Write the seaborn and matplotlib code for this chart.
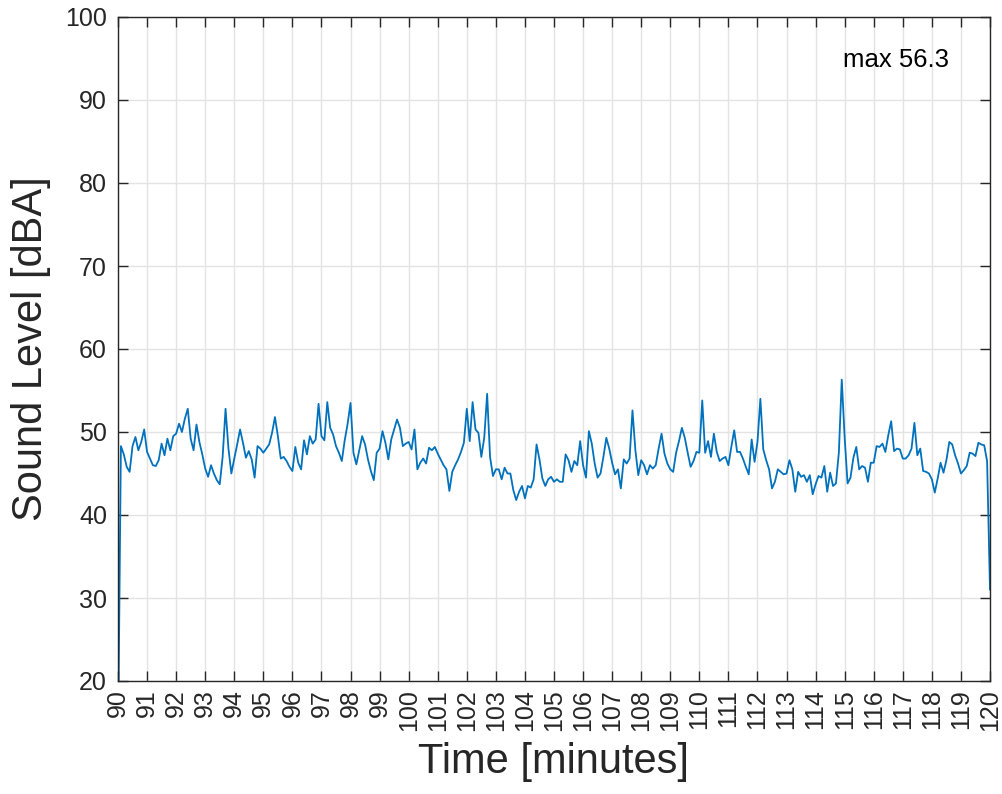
import matplotlib
matplotlib.use("Agg")
import matplotlib.pyplot as plt
import seaborn as sns
import numpy as np
import pandas as pd

# sound level, one value every 0.1 min from 90.0 to 120.0
level_90 = [12.0, 48.3, 47.3, 45.8, 45.2, 48.3, 49.4, 47.8, 48.8, 50.3]
level_91 = [47.6, 46.8, 46.0, 45.9, 46.6, 48.6, 47.2, 49.2, 47.8, 49.5]
level_92 = [49.8, 51.0, 50.0, 51.6, 52.8, 49.2, 47.8, 50.9, 48.8, 47.3]
level_93 = [45.6, 44.6, 46.0, 45.0, 44.2, 43.7, 47.0, 52.8, 48.0, 45.0]
level_94 = [46.8, 48.5, 50.3, 48.7, 46.9, 47.7, 46.7, 44.5, 48.3, 48.0]
level_95 = [47.5, 48.0, 48.5, 49.9, 51.8, 49.5, 46.8, 47.0, 46.5, 45.8]
level_96 = [45.3, 48.2, 46.3, 45.5, 49.0, 47.3, 49.5, 48.6, 49.1, 53.4]
level_97 = [49.5, 49.0, 53.6, 50.5, 49.7, 48.3, 47.5, 46.5, 49.0, 51.0]
level_98 = [53.5, 47.5, 46.1, 47.8, 49.5, 48.5, 46.7, 45.3, 44.2, 47.5]
level_99 = [48.0, 50.1, 48.7, 46.7, 49.1, 50.3, 51.5, 50.5, 48.3, 48.6]
level_100 = [48.8, 47.9, 50.3, 45.5, 46.3, 46.8, 46.2, 48.1, 47.8, 48.2]
level_101 = [47.4, 46.7, 46.0, 45.5, 42.9, 45.2, 46.0, 46.7, 47.6, 48.7]
level_102 = [52.8, 48.9, 53.6, 50.3, 49.9, 47.0, 49.3, 54.6, 47.0, 44.7]
level_103 = [45.5, 45.5, 44.3, 45.7, 45.0, 45.0, 43.0, 41.8, 42.8, 43.5]
level_104 = [42.0, 43.5, 43.3, 44.3, 48.5, 46.7, 44.4, 43.5, 44.3, 44.6]
level_105 = [44.0, 44.3, 44.0, 44.0, 47.3, 46.6, 45.2, 46.5, 46.0, 48.9]
level_106 = [46.0, 44.5, 50.1, 48.6, 46.2, 44.5, 45.0, 47.0, 49.3, 48.0]
level_107 = [46.3, 44.9, 45.5, 43.2, 46.7, 46.2, 46.8, 52.6, 47.8, 44.8]
level_108 = [46.6, 46.0, 44.9, 46.0, 45.6, 46.0, 48.0, 49.8, 47.4, 46.2]
level_109 = [45.5, 45.2, 47.5, 48.9, 50.5, 49.3, 47.5, 45.8, 46.5, 47.6]
level_110 = [47.5, 53.8, 47.5, 48.9, 47.0, 49.8, 47.6, 46.5, 46.8, 47.0]
level_111 = [46.0, 48.2, 50.2, 47.6, 47.6, 46.8, 45.8, 44.9, 49.1, 46.4]
level_112 = [48.8, 54.0, 47.9, 46.6, 45.5, 43.2, 44.0, 45.5, 45.2, 44.9]
level_113 = [45.0, 46.6, 45.5, 42.8, 45.2, 44.6, 44.8, 44.0, 44.8, 42.5]
level_114 = [43.7, 44.7, 44.5, 45.9, 42.8, 45.1, 43.5, 43.8, 47.5, 56.3]
level_115 = [49.3, 43.8, 44.5, 46.9, 48.2, 45.5, 45.9, 45.7, 44.0, 46.3]
level_116 = [46.3, 48.3, 48.2, 48.6, 47.6, 49.6, 51.3, 47.7, 48.0, 47.9]
level_117 = [46.8, 46.8, 47.2, 48.0, 51.1, 47.2, 48.0, 45.3, 45.2, 45.0]
level_118 = [44.3, 42.7, 44.4, 46.3, 45.1, 46.6, 48.8, 48.5, 47.2, 46.2]
level_119 = [45.0, 45.4, 45.9, 47.5, 47.4, 47.1, 48.7, 48.5, 48.4, 46.5]
level_120 = [31.0]

minute_ticks = list(range(90, 121))
db_ticks = list(range(20, 101, 10))
max_label = "max 56.3"

level = (level_90 + level_91 + level_92 + level_93 + level_94 + level_95 + level_96
         + level_97 + level_98 + level_99 + level_100 + level_101 + level_102
         + level_103 + level_104 + level_105 + level_106 + level_107 + level_108
         + level_109 + level_110 + level_111 + level_112 + level_113 + level_114
         + level_115 + level_116 + level_117 + level_118 + level_119 + level_120)
minutes = np.round(90 + 0.1 * np.arange(len(level)), 1)
df = pd.DataFrame({"minutes": minutes, "level": level})

sns.set_style("ticks")
plt.rcParams['font.family'] = ['Liberation Sans', 'DejaVu Sans']
text_col = '#262626'

fig = plt.figure(figsize=(10.02, 7.94), dpi=100)
ax = fig.add_axes([118 / 1002, 1 - 681 / 794, 872 / 1002, 664 / 794])

sns.lineplot(x="minutes", y="level", data=df, ax=ax, color='#0072BD', lw=1.3)

ax.set_xlim(90, 120)
ax.set_ylim(20, 100)
ax.set_xticks(minute_ticks)
ax.set_xticklabels([str(m) for m in minute_ticks], rotation=90)
ax.set_yticks(db_ticks)
ax.grid(True, color='#e3e3e3', lw=1.0)
ax.set_axisbelow(True)
for s in ax.spines.values():
    s.set_color(text_col)
    s.set_linewidth(1.0)
    s.set_visible(True)
ax.tick_params(direction='in', length=7, width=1.0, colors=text_col,
               labelsize=18, top=True, right=True, pad=8)
ax.tick_params(axis='x', pad=6)

ax.set_xlabel('Time [minutes]', fontsize=30, color=text_col, labelpad=8)
ax.set_ylabel('Sound Level [dBA]', fontsize=30, color=text_col, labelpad=10)
ax.text(114.94, 94.8, max_label, fontsize=18.5, color='black', ha='left', va='center')

fig.savefig('out.png', dpi=100)
